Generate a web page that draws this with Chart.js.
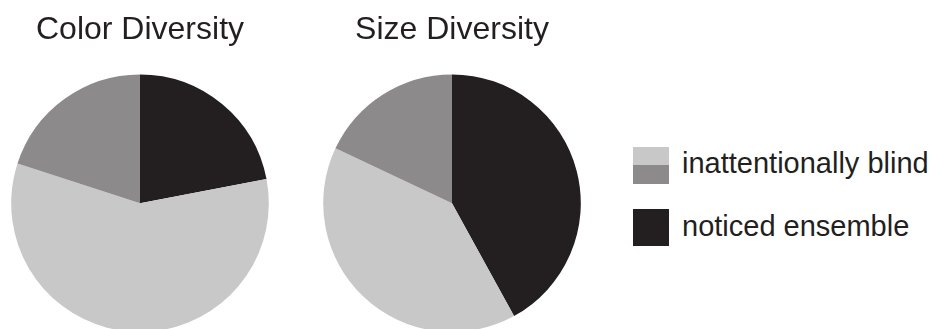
<!DOCTYPE html>
<html lang="en">
<head>
    <meta charset="UTF-8">
    <title>Color and Size Diversity</title>
    <script src="https://cdn.jsdelivr.net/npm/chart.js"></script>
    <style>
        body {
            margin: 0;
            width: 933px;
            height: 329px;
            overflow: hidden;
            background: #fff;
            position: relative;
            font-family: "Liberation Sans", Arial, sans-serif;
            color: #231f20;
        }
        .pie-box {
            position: absolute;
            top: 0;
            width: 258px;
            height: 332px;
        }
        .legend-swatch {
            position: absolute;
            left: 633px;
            width: 36px;
            height: 37px;
        }
        .legend-text {
            position: absolute;
            left: 682px;
            font-size: 29px;
            line-height: 29px;
            white-space: nowrap;
        }
    </style>
</head>
<body>
    <div class="pie-box" style="left: 11px;"><canvas id="colorChart"></canvas></div>
    <div class="pie-box" style="left: 323px;"><canvas id="sizeChart"></canvas></div>

    <div class="legend-swatch" style="top: 147px; background: linear-gradient(#c8c8c8 0 48%, #8c8a8b 48% 100%);"></div>
    <div class="legend-text" style="top: 149px;">inattentionally blind</div>
    <div class="legend-swatch" style="top: 209px; background: #231f20;"></div>
    <div class="legend-text" style="top: 212px;">noticed ensemble</div>

    <script>
        // slices run clockwise from 12 o'clock
        const slices = ['noticed ensemble', 'inattentionally blind (a)', 'inattentionally blind (b)'];
        const sliceColors = ['#231f20', '#c8c8c8', '#8c8a8b'];
        const colorDiversity = [22, 58, 20];
        const sizeDiversity = [42, 40, 18];

        function makePie(id, title, values) {
            new Chart(document.getElementById(id), {
                type: 'pie',
                data: {
                    labels: slices,
                    datasets: [{
                        data: values,
                        backgroundColor: sliceColors,
                        borderWidth: 0
                    }]
                },
                options: {
                    responsive: true,
                    maintainAspectRatio: false,
                    animation: false,
                    layout: { padding: 0 },
                    plugins: {
                        legend: { display: false },
                        tooltip: { enabled: false },
                        title: {
                            display: true,
                            text: title,
                            color: '#231f20',
                            font: { family: '"Liberation Sans", Arial, sans-serif', size: 32, weight: 'normal', lineHeight: 1.2 },
                            padding: { top: 11, bottom: 25 }
                        }
                    }
                }
            });
        }

        makePie('colorChart', 'Color Diversity', colorDiversity);
        makePie('sizeChart', 'Size Diversity', sizeDiversity);
    </script>
</body>
</html>
